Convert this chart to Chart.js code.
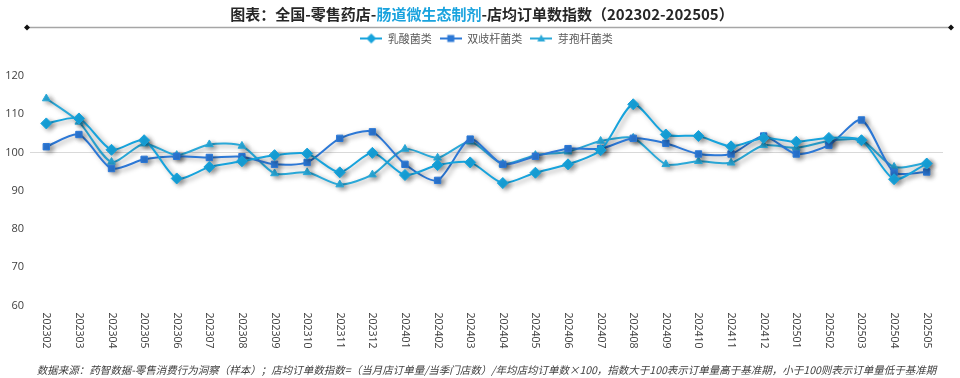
<!DOCTYPE html>
<html>
<head>
<meta charset="utf-8">
<script src="https://cdn.jsdelivr.net/npm/chart.js@4"></script>
<style>
  html, body { margin: 0; padding: 0; background: #fff; }
  #wrap { width: 960px; height: 378px; position: relative; }
</style>
</head>
<body>
<div id="wrap"><canvas id="chart"></canvas></div>
<script>
// 月份
const categories = ['202302', '202303', '202304', '202305', '202306', '202307', '202308', '202309', '202310', '202311',
    '202312', '202401', '202402', '202403', '202404', '202405', '202406', '202407', '202408', '202409',
    '202410', '202411', '202412', '202501', '202502', '202503', '202504', '202505'];

// 各菌类店均订单数指数
const lactic = [107.6, 108.9, 100.7, 103.2, 93.2, 96.2, 97.7, 99.3, 99.7, 94.8,
    99.9, 94.1, 96.7, 97.4, 92.0, 94.7, 96.9, 100.6, 112.6, 104.7,
    104.3, 101.6, 103.8, 102.8, 103.8, 103.2, 93.0, 97.1];
const bifido = [101.5, 104.7, 95.8, 98.2, 99.0, 98.7, 98.9, 96.9, 97.4, 103.7,
    105.4, 96.9, 92.7, 103.5, 96.9, 99.0, 101.0, 101.0, 103.7, 102.4,
    99.6, 99.6, 104.3, 99.6, 101.9, 108.5, 94.8, 94.9];
const bacillus = [114.1, 108.0, 97.5, 102.3, 99.3, 102.1, 101.7, 94.5, 94.8, 91.6,
    94.2, 100.9, 98.6, 102.8, 97.0, 99.3, 100.2, 103.0, 103.8, 96.9,
    97.7, 97.3, 101.9, 101.2, 103.0, 103.2, 96.2, 97.3];

const seriesNames = ['乳酸菌类', '双歧杆菌类', '芽孢杆菌类'];
const yTicks = [60, 70, 80, 90, 100, 110, 120];

const titleParts = [
    { text: '图表：全国-零售药店-', color: '#262626' },
    { text: '肠道微生态制剂', color: '#1aa3de' },
    { text: '-店均订单数指数（202302-202505）', color: '#262626' }
];
const footerText = '数据来源：药智数据-零售消费行为洞察（样本）；店均订单数指数=（当月店订单量/当季门店数）/年均店均订单数×100，指数大于100表示订单量高于基准期，小于100则表示订单量低于基准期';

const colors = ['#17a3dc', '#2c78d6', '#2aa8d8'];
const styles = ['rectRot', 'rect', 'triangle'];
const radii = [5.5, 4.5, 4.5];

/**
 * 图例小图标：线段 + 标记
 */
function makeIcon(color, style) {
    const c = document.createElement('canvas');
    c.width = 22; c.height = 12;
    const g = c.getContext('2d');
    g.strokeStyle = color; g.lineWidth = 2;
    g.beginPath(); g.moveTo(0, 6); g.lineTo(22, 6); g.stroke();
    g.fillStyle = color;
    g.beginPath();
    if (style === 'rectRot') {
        g.moveTo(11, 1); g.lineTo(16, 6); g.lineTo(11, 11); g.lineTo(6, 6);
    } else if (style === 'rect') {
        g.rect(7.5, 2.5, 7, 7);
    } else {
        g.moveTo(11, 2); g.lineTo(15, 9); g.lineTo(7, 9);
    }
    g.closePath(); g.fill();
    return c;
}
const icons = colors.map((c, i) => makeIcon(c, styles[i]));

// 折线阴影
const shadowPlugin = {
    id: 'shadow',
    beforeDatasetDraw(chart) {
        const ctx = chart.ctx;
        ctx.save();
        ctx.shadowColor = 'rgba(0,0,0,0.38)';
        ctx.shadowBlur = 5;
        ctx.shadowOffsetX = 3;
        ctx.shadowOffsetY = 2;
    },
    afterDatasetDraw(chart) {
        chart.ctx.restore();
    }
};

// 标题、分割线、竖排月份标签
const decorPlugin = {
    id: 'decor',
    afterDraw(chart) {
        const ctx = chart.ctx;
        ctx.save();
        // 标题
        ctx.font = 'bold 15px "Noto Sans CJK SC"';
        ctx.textBaseline = 'middle';
        ctx.textAlign = 'left';
        let total = 0;
        titleParts.forEach(p => { total += ctx.measureText(p.text).width; });
        let x = 482 - total / 2;
        titleParts.forEach(p => {
            ctx.fillStyle = p.color;
            ctx.fillText(p.text, x, 14);
            x += ctx.measureText(p.text).width;
        });
        // 分割线
        ctx.strokeStyle = '#a6a6a6';
        ctx.lineWidth = 1.5;
        ctx.beginPath(); ctx.moveTo(27, 27.5); ctx.lineTo(951, 27.5); ctx.stroke();
        ctx.fillStyle = '#111';
        [27, 951].forEach(px => {
            ctx.beginPath();
            ctx.moveTo(px, 24.5); ctx.lineTo(px + 3, 27.5); ctx.lineTo(px, 30.5); ctx.lineTo(px - 3, 27.5);
            ctx.closePath(); ctx.fill();
        });
        // x轴标签（顺时针竖排）
        const xs = chart.scales.x;
        ctx.font = '10.5px "Open Sans"';
        ctx.fillStyle = '#404040';
        ctx.textAlign = 'left';
        ctx.textBaseline = 'middle';
        xs.ticks.forEach((t, i) => {
            ctx.save();
            ctx.translate(xs.getPixelForTick(i), chart.chartArea.bottom + 7);
            ctx.rotate(Math.PI / 2);
            ctx.fillText(xs.getLabelForValue(t.value), 0, 0);
            ctx.restore();
        });
        ctx.restore();
    }
};

const datasets = [lactic, bifido, bacillus].map((vals, i) => ({
    label: seriesNames[i],
    data: vals,
    borderColor: colors[i],
    backgroundColor: colors[i],
    borderWidth: 2,
    pointStyle: styles[i],
    pointRadius: radii[i],
    pointBorderWidth: 1,
    tension: 0.25
}));

new Chart(document.getElementById('chart'), {
    type: 'line',
    data: { labels: categories, datasets: datasets },
    plugins: [shadowPlugin, decorPlugin],
    options: {
        responsive: true,
        maintainAspectRatio: false,
        animation: false,
        layout: { padding: { top: 25, left: 0, right: 17, bottom: 0 } },
        plugins: {
            legend: {
                position: 'top',
                fullSize: false,
                labels: {
                    usePointStyle: true,
                    pointStyleWidth: 22,
                    padding: 8,
                    color: '#595959',
                    font: { size: 11, family: '"Noto Sans CJK SC"' },
                    generateLabels(chart) {
                        return Chart.defaults.plugins.legend.labels.generateLabels(chart)
                            .map((l, i) => Object.assign(l, { pointStyle: icons[i] }));
                    }
                }
            },
            subtitle: {
                display: true,
                text: '',
                weight: 500,
                position: 'top',
                font: { size: 10 },
                padding: 5
            },
            title: {
                display: true,
                text: footerText,
                position: 'bottom',
                fullSize: false,
                color: '#404040',
                font: { size: 10.5, style: 'italic', weight: 'normal', family: '"Noto Sans CJK SC"' },
                padding: { top: 4, bottom: 2 }
            },
            tooltip: { enabled: false }
        },
        scales: {
            x: {
                offset: true,
                grid: { display: false, offset: true },
                border: { display: false },
                ticks: { color: 'rgba(0,0,0,0)', autoSkip: false, minRotation: 90, maxRotation: 90, font: { size: 11 } },
                afterFit(scale) { scale.height = 54; }
            },
            y: {
                min: 60,
                max: 120,
                afterBuildTicks(scale) { scale.ticks = yTicks.map(v => ({ value: v })); },
                border: { display: false },
                grid: {
                    drawTicks: false,
                    lineWidth: 1,
                    color: ctx => (ctx.tick && ctx.tick.value === 100) ? '#d9d9d9' : 'rgba(0,0,0,0)'
                },
                ticks: { color: '#404040', padding: 6, font: { size: 11, family: '"Open Sans"' } },
                afterFit(scale) { scale.width = 30; }
            }
        }
    }
});
</script>
</body>
</html>
